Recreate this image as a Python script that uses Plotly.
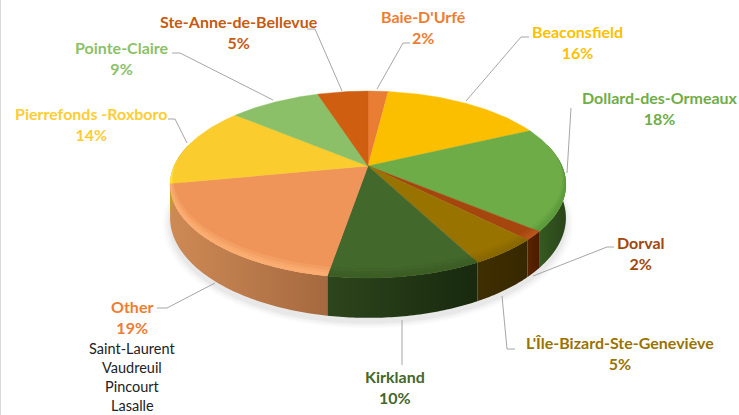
import numpy as np
import plotly.graph_objects as go

cities = ["Baie-D'Urfé", "Beaconsfield", "Dollard-des-Ormeaux", "Dorval",
          "L'Île-Bizard-Ste-Geneviève", "Kirkland", "Other",
          "Pierrefonds -Roxboro", "Pointe-Claire", "Ste-Anne-de-Bellevue"]
shares = [2, 16, 18, 1.5, 4.8, 10.4, 19.3, 14, 9, 5]
other_detail = ["Saint-Laurent", "Vaudreuil", "Pincourt", "Lasalle"]

top_colors = ["#E97D33", "#FCBF00", "#6EAC47", "#A5460F", "#997300", "#43682B",
              "#EF9559", "#FBCC2E", "#8BC068", "#CF5E10"]
text_colors = ["#ED7D31", "#FFC000", "#70AD47", "#9E480E", "#997300", "#43682B",
               "#ED7D31", "#FFCD33", "#8CC168", "#C55A11"]
rim_colors = ["#F08A45", "#FFD030", "#5E9A3C", "#B8541A", "#8A6800", "#3C5E26",
              "#FBAE72", "#FFE040", "#8BC068", "#CF5E10"]
side_left = ["#C06A2A", "#C09000", "#355A20", "#5A2400", "#3F2E00", "#2D451C",
             "#CE8A55", "#C0A020", "#5F8A48", "#8E430C"]
side_right = ["#C06A2A", "#C09000", "#2A441A", "#4A1C00", "#382800", "#18290E",
              "#A5693F", "#C0A020", "#5F8A48", "#8E430C"]

# Label layout (page pixels)
label_x = [423, 577, 660, 641, 620, 395, 132, 91, 122, 239]
label_y = [27, 42, 108, 253, 353, 387, 317, 124, 58, 32]
leaders = [
    [(377, 89), (403, 43), (410, 43)],
    [(466, 101), (521, 37), (529, 37)],
    [(567, 173), (571, 108)],
    [(533, 276), (607, 247), (614, 247)],
    [(502, 296), (507, 349), (515, 349)],
    [(402, 320), (402, 365)],
    [(215, 283), (167, 308), (157, 308)],
    [(187, 143), (175, 119), (168, 119)],
    [(273, 100), (180, 53), (172, 53)],
    [(342, 91), (315, 29), (307, 29)],
]

# Perspective model of the tilted disc
CX, CY = 368, 166
RX, RY, K, DEPTH = 194, 89.8, 0.198, 32


def project(theta, r=1.0, drop=0.0):
    u, v = r * np.sin(theta), -r * np.cos(theta)
    w = 1 - K * v
    return CX + RX * u / w, CY + RY * v / w + drop * DEPTH / w


def front(theta):
    return np.clip((-np.cos(theta) + 0.1) / 1.1, 0, 1)


fig = go.Figure()

# soft shadow under the disc
full = np.linspace(0, 2 * np.pi, 181)
for grow, op in [(1.035, 0.025), (1.025, 0.03), (1.015, 0.04), (1.005, 0.05)]:
    sx, sy = project(full, grow, 1.0)
    fig.add_trace(go.Scatter(x=sx, y=sy + 5, fill="toself", mode="none",
                             fillcolor=f"rgba(90,90,90,{op})",
                             hoverinfo="skip", showlegend=False))

edges = np.cumsum([0] + shares) / sum(shares) * 2 * np.pi

# outer side walls, back to front
for i, name in enumerate(cities):
    lo, hi = edges[i], edges[i + 1]
    a = max(lo, np.pi * 0.42)
    b = min(hi, np.pi * 1.58)
    if b <= a:
        continue
    t = np.linspace(a, b, 50)
    x0, y0 = project(t)
    x1, y1 = project(t, 1.0, 1.0)
    xs = np.r_[x0, x1[::-1], x0[0]]
    ys = np.r_[y0, y1[::-1], y0[0]]
    fig.add_trace(go.Scatter(
        x=xs, y=ys, mode="none", fill="toself",
        fillgradient=dict(type="horizontal",
                          colorscale=[[0, side_left[i]], [1, side_right[i]]]),
        hoverinfo="skip", showlegend=False))

# top faces with a bevel band on the rim
for i, name in enumerate(cities):
    lo, hi = edges[i], edges[i + 1]
    t = np.linspace(lo, hi, max(12, int(shares[i] * 5)))
    x, y = project(t)
    pct = round(shares[i])
    fig.add_trace(go.Scatter(
        x=np.r_[CX, x, CX], y=np.r_[CY, y, CY], mode="lines", fill="toself",
        fillcolor=top_colors[i], line=dict(color=top_colors[i], width=0.4),
        name=name, text=f"{name}: {pct}%", hoverinfo="text",
        showlegend=False))
    for width, op in [(0.07, 0.35), (0.045, 0.6), (0.025, 0.9)]:
        inner = 1 - width * front(t)
        xi, yi = project(t, inner)
        fig.add_trace(go.Scatter(
            x=np.r_[x, xi[::-1], x[0]], y=np.r_[y, yi[::-1], y[0]],
            mode="none", fill="toself", fillcolor=rim_colors[i], opacity=op,
            hoverinfo="skip", showlegend=False))

# leader lines
for path in leaders:
    px, py = zip(*path)
    fig.add_trace(go.Scatter(x=px, y=py, mode="lines",
                             line=dict(color="#A6A6A6", width=1),
                             hoverinfo="skip", showlegend=False))

# labels
for i, name in enumerate(cities):
    fig.add_annotation(
        x=label_x[i], y=label_y[i], xref="x", yref="y", showarrow=False,
        text=f"<b>{name}<br>{round(shares[i])}%</b>",
        font=dict(family="Lato", size=16, color=text_colors[i]),
        align="center")
for j, town in enumerate(other_detail):
    fig.add_annotation(
        x=label_x[6], y=348 + j * 19.3, xref="x", yref="y", showarrow=False,
        text=town, font=dict(family="Lato", size=14.5, color="#222222"))

fig.add_shape(type="line", x0=0.5, x1=0.5, y0=0, y1=415, xref="x", yref="y",
              line=dict(color="#D9D9D9", width=1))

fig.update_layout(
    width=739, height=415, margin=dict(l=0, r=0, t=0, b=0),
    paper_bgcolor="white", plot_bgcolor="white", showlegend=False,
    xaxis=dict(range=[0, 739], visible=False, fixedrange=True),
    yaxis=dict(range=[415, 0], visible=False, fixedrange=True),
)
fig.write_html("out.html", config={"displayModeBar": False},
               post_script="document.body.style.margin='0';document.documentElement.style.overflow='hidden';")
